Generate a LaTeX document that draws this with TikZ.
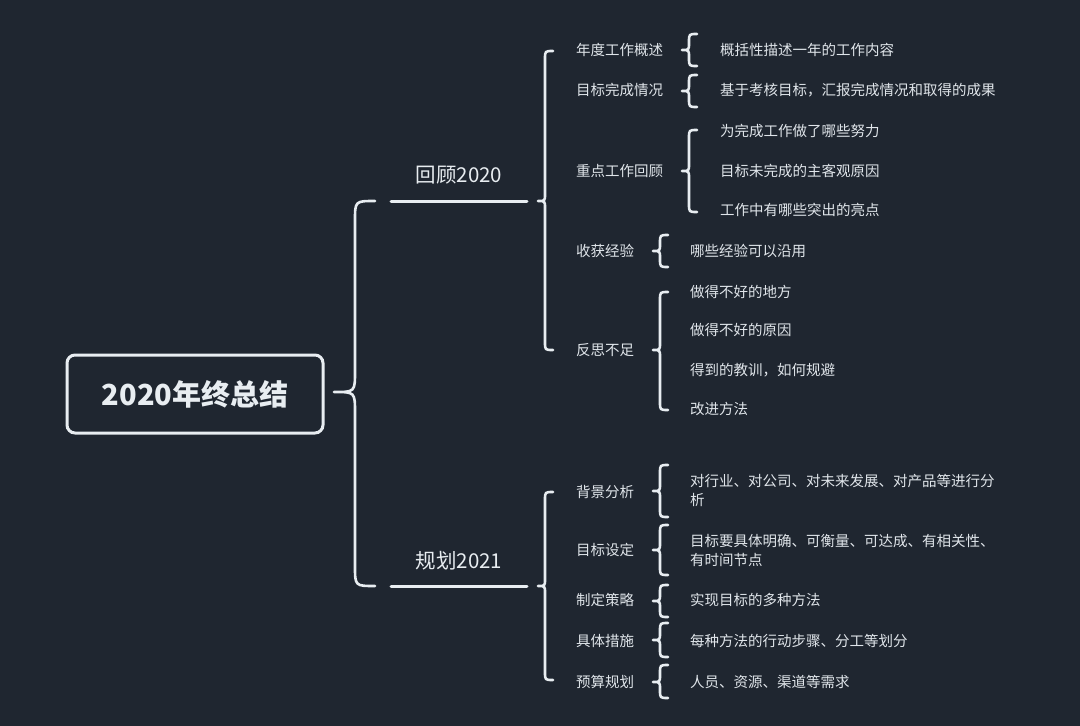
\documentclass[tikz,border=0pt]{standalone}
\usepackage{fontspec}
\setmainfont{Noto Sans CJK SC}
\definecolor{bg}{RGB}{31,38,48}
\definecolor{fg}{RGB}{232,237,241}
\definecolor{tx}{RGB}{224,229,234}
\newcommand\mybr[6]{%
  \draw[bl] ({#1+#6},#2) .. controls (#1,#2) .. (#1,{#2+#6}) -- (#1,{#3-#5})
    .. controls (#1,#3) .. ({#1-#5},#3) .. controls (#1,#3) .. (#1,{#3+#5})
    -- (#1,{#4-#6}) .. controls (#1,#4) .. ({#1+#6},#4);}
\tikzset{
  bl/.style={draw=fg, line width=2.6pt, line cap=round, line join=round},
  root/.style={draw=fg, line width=3pt, rounded corners=8pt, minimum width=256pt,
    minimum height=78pt, text=fg, font=\bfseries\fontsize{29}{34}\selectfont, inner sep=0pt},
  lone/.style={text=fg, font=\fontsize{20.5}{24}\selectfont, inner sep=0pt},
  ltwo/.style={text=tx, font=\fontsize{14.5}{19}\selectfont, inner sep=0pt, anchor=west},
  lthree/.style={text=tx, font=\fontsize{14.5}{19}\selectfont, inner sep=0pt, anchor=west, align=left},
}
\begin{document}
\begin{tikzpicture}[x=1pt,y=-1pt]
\fill[bg] (0,0) rectangle (1080,726);
\useasboundingbox (0,0) rectangle (1080,726);
% root
\node[root] (root) at (195,394) {2020年终总结};
% level 1
\node[lone] (a) at (459,175) {回顾2020};
\node[lone] (b) at (459,561) {规划2021};
\coordinate (a1) at (391,201); \coordinate (a2) at (527,201);
\coordinate (b1) at (391,586); \coordinate (b2) at (527,586);
\draw[bl, line width=3pt] (a1) -- (a2);
\draw[bl, line width=3pt] (b1) -- (b2);
\mybr{355}{201}{392}{586}{21}{20}
% level 2
\node[ltwo] (a-1) at (576,50) {年度工作概述};
\node[ltwo] (a-2) at (576,90) {目标完成情况};
\node[ltwo] (a-3) at (576,171) {重点工作回顾};
\node[ltwo] (a-4) at (576,251) {收获经验};
\node[ltwo] (a-5) at (576,350) {反思不足};
\node[ltwo] (b-1) at (576,492) {背景分析};
\node[ltwo] (b-2) at (576,550) {目标设定};
\node[ltwo] (b-3) at (576,600) {制定策略};
\node[ltwo] (b-4) at (576,641) {具体措施};
\node[ltwo] (b-5) at (576,682) {预算规划};
\mybr{545}{51}{201}{350}{7}{8}
\mybr{545}{492}{586}{680}{7}{8}
% level 3
\node[lthree] (a-1-1) at (720,50) {概括性描述一年的工作内容};
\node[lthree] (a-2-1) at (720,90) {基于考核目标，汇报完成情况和取得的成果};
\node[lthree] (a-3-1) at (720,131) {为完成工作做了哪些努力};
\node[lthree] (a-3-2) at (720,171) {目标未完成的主客观原因};
\node[lthree] (a-3-3) at (720,210) {工作中有哪些突出的亮点};
\node[lthree] (a-4-1) at (690,251) {哪些经验可以沿用};
\node[lthree] (a-5-1) at (690,292) {做得不好的地方};
\node[lthree] (a-5-2) at (690,330) {做得不好的原因};
\node[lthree] (a-5-3) at (690,370) {得到的教训，如何规避};
\node[lthree] (a-5-4) at (690,409) {改进方法};
\node[lthree] (b-1-1) at (690,490.5) {对行业、对公司、对未来发展、对产品等进行分\\析};
\node[lthree] (b-2-1) at (690,550) {目标要具体明确、可衡量、可达成、有相关性、\\有时间节点};
\node[lthree] (b-3-1) at (690,600) {实现目标的多种方法};
\node[lthree] (b-4-1) at (690,641) {每种方法的行动步骤、分工等划分};
\node[lthree] (b-5-1) at (690,682) {人员、资源、渠道等需求};
\mybr{689}{34}{50}{66}{7}{8}
\mybr{689}{75}{91}{107}{7}{8}
\mybr{689}{130}{171}{212}{7}{8}
\mybr{660}{235}{251}{267}{7}{8}
\mybr{660}{292}{350}{410}{7}{8}
\mybr{660}{465}{491}{517}{7}{8}
\mybr{660}{525}{550}{575}{7}{8}
\mybr{660}{585}{601}{617}{7}{8}
\mybr{660}{623}{640}{657}{7}{8}
\mybr{660}{665}{682}{698}{7}{8}
\end{tikzpicture}
\end{document}
